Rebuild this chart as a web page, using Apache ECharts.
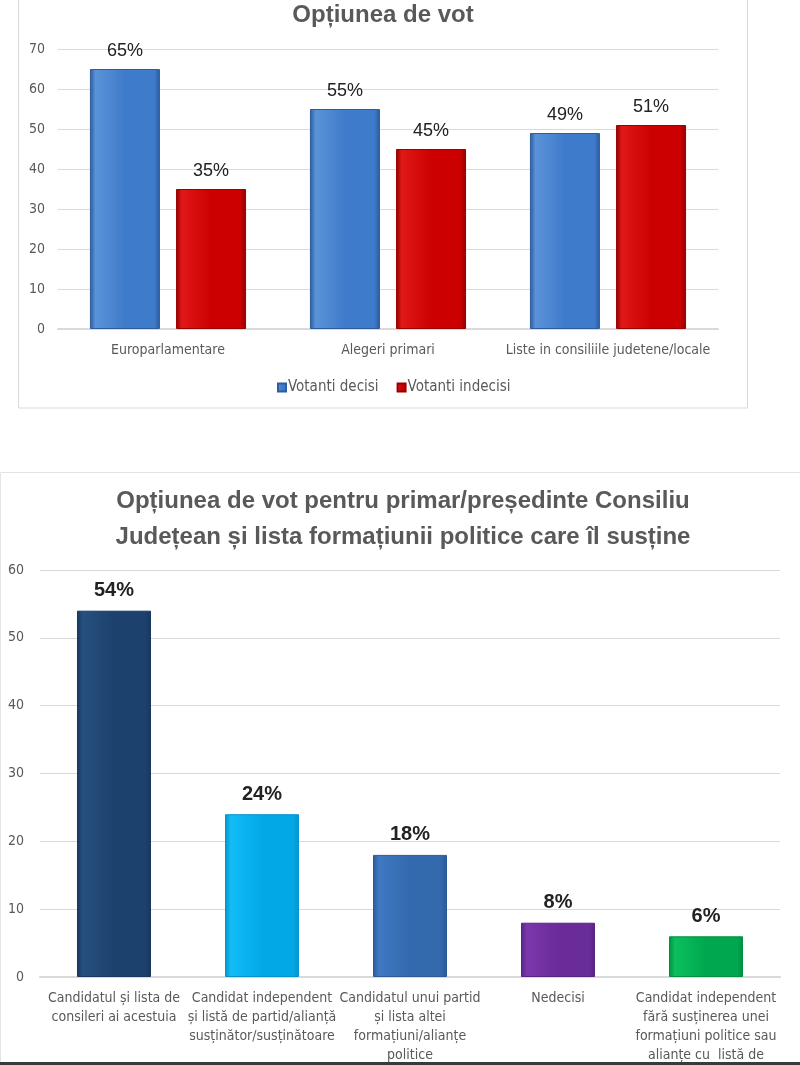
<!DOCTYPE html>
<html>
<head>
<meta charset="utf-8">
<script src="https://cdn.jsdelivr.net/npm/echarts@6/dist/echarts.min.js"></script>
<style>
  html, body { margin: 0; padding: 0; background: #fff; }
  #main { width: 800px; height: 1065px; }
</style>
</head>
<body>
<div id="main"></div>
<script>
// date sus: optiunea de vot
const categoriiVot = ["Europarlamentare", "Alegeri primari", "Liste in consiliile judetene/locale"];
const votantiDecisi = [65, 55, 49];
const votantiIndecisi = [35, 45, 51];
const ticksSus = [0, 10, 20, 30, 40, 50, 60, 70];

// date jos: primar / presedinte CJ
const categoriiPrimar = [
  "Candidatul și lista de\nconsileri ai acestuia",
  "Candidat independent\nși listă de partid/alianță\nsusținător/susținătoare",
  "Candidatul unui partid\nși lista altei\nformațiuni/alianțe\npolitice",
  "Nedecisi",
  "Candidat independent\nfără susținerea unei\nformațiuni politice sau\nalianțe cu  listă de"
];
const valoriPrimar = [54, 24, 18, 8, 6];
const culoriPrimar = [
  ["#18385f", "#26507f", "#1c416d"],
  ["#0495cc", "#12bdf6", "#02a8e6"],
  ["#2b5a98", "#4079c2", "#3369ad"],
  ["#5a2483", "#7a38ad", "#6a2c98"],
  ["#00903f", "#0bbf5d", "#00a74f"]
];

const narrow = '"Liberation Sans Narrow", "DejaVu Sans Condensed", "Liberation Sans", sans-serif';
const gri = "#595959";

// gradient orizontal ca sa imite bara 3D
function bevel(dark, light, mid) {
  return new echarts.graphic.LinearGradient(0, 0, 1, 0, [
    { offset: 0, color: dark },
    { offset: 0.08, color: light },
    { offset: 0.5, color: mid },
    { offset: 0.92, color: mid },
    { offset: 1, color: dark }
  ]);
}

let myChart = echarts.init(document.getElementById("main"));

let option = {
  backgroundColor: "#fff",
  animation: false,
  title: [
    {
      text: "Opțiunea de vot",
      left: 378, top: -2, textAlign: "center",
      textStyle: { fontFamily: "Liberation Sans", fontSize: 24, fontWeight: "bold", color: gri }
    },
    {
      text: "Opțiunea de vot pentru primar/președinte Consiliu\nJudețean și lista formațiunii politice care îl susține",
      left: 398, top: 478, textAlign: "center",
      textStyle: { fontFamily: "Liberation Sans", fontSize: 24, fontWeight: "bold", color: gri, lineHeight: 36 }
    }
  ],
  graphic: [
    { type: "rect", shape: { x: 18.5, y: -5, width: 729, height: 413 }, style: { fill: "none", stroke: "#d9d9d9", lineWidth: 1 }, silent: true },
    { type: "rect", shape: { x: 0.5, y: 472.5, width: 820, height: 620 }, style: { fill: "none", stroke: "#e3e3e3", lineWidth: 1 }, silent: true },
    { type: "rect", shape: { x: 0, y: 1062, width: 800, height: 3 }, style: { fill: "#3a3a3a" }, silent: true }
  ],
  legend: {
    data: ["Votanti decisi", "Votanti indecisi"],
    left: 272, top: 375,
    itemWidth: 8, itemHeight: 8, itemGap: 18,
    icon: "rect",
    textStyle: { fontFamily: narrow, fontSize: 15, color: gri, padding: [0, 0, 0, -3] }
  },
  grid: [
    { left: 58, right: 82, top: 49, bottom: 736 },
    { left: 40, right: 20, top: 570, bottom: 86 }
  ],
  xAxis: [
    {
      gridIndex: 0, type: "category", data: categoriiVot,
      axisLine: { lineStyle: { color: "#d9d9d9", width: 2 } },
      axisTick: { show: false },
      axisLabel: { fontFamily: narrow, fontSize: 14, color: gri, margin: 14, interval: 0 }
    },
    {
      gridIndex: 1, type: "category", data: categoriiPrimar,
      axisLine: { lineStyle: { color: "#d9d9d9", width: 2 } },
      axisTick: { show: false },
      axisLabel: { fontFamily: narrow, fontSize: 14, color: gri, margin: 12, lineHeight: 19, interval: 0 }
    }
  ],
  yAxis: [
    {
      gridIndex: 0, type: "value", min: ticksSus[0], max: ticksSus[ticksSus.length - 1], interval: 10,
      axisLine: { show: false }, axisTick: { show: false },
      splitLine: { lineStyle: { color: "#d9d9d9" } },
      axisLabel: { fontFamily: narrow, fontSize: 14, color: gri, margin: 13 }
    },
    {
      gridIndex: 1, type: "value", min: 0, max: 60, interval: 10,
      axisLine: { show: false }, axisTick: { show: false },
      splitLine: { lineStyle: { color: "#d9d9d9" } },
      axisLabel: { fontFamily: narrow, fontSize: 14, color: gri, margin: 16 }
    }
  ],
  series: [
    {
      name: "Votanti decisi", type: "bar", xAxisIndex: 0, yAxisIndex: 0,
      data: votantiDecisi, barWidth: 70, barGap: "23%",
      itemStyle: { color: bevel("#2a5a9c", "#5b93d8", "#3f7bcb"), borderColor: "#2d5d9e", borderWidth: 1 },
      label: { show: true, position: "top", distance: 9, formatter: "{c}%", fontFamily: "Liberation Sans", fontSize: 18, color: "#222" }
    },
    {
      name: "Votanti indecisi", type: "bar", xAxisIndex: 0, yAxisIndex: 0,
      data: votantiIndecisi, barWidth: 70,
      itemStyle: { color: bevel("#8e0000", "#e01818", "#cc0000"), borderColor: "#990000", borderWidth: 1 },
      label: { show: true, position: "top", distance: 9, formatter: "{c}%", fontFamily: "Liberation Sans", fontSize: 18, color: "#222" }
    },
    {
      name: "Primar", type: "bar", xAxisIndex: 1, yAxisIndex: 1,
      data: valoriPrimar.map((v, i) => ({
        value: v,
        itemStyle: { color: bevel(culoriPrimar[i][0], culoriPrimar[i][1], culoriPrimar[i][2]), borderColor: culoriPrimar[i][0], borderWidth: 1 }
      })),
      barWidth: 74,
      label: { show: true, position: "top", distance: 10, formatter: "{c}%", fontFamily: "Liberation Sans", fontSize: 20, fontWeight: "bold", color: "#222" }
    }
  ]
};

myChart.setOption(option);
</script>
</body>
</html>
